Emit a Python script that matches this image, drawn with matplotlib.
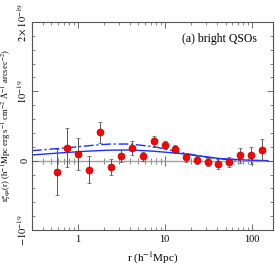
import numpy as np
import matplotlib
matplotlib.use('Agg')
import matplotlib.pyplot as plt
from matplotlib.ticker import LogLocator, MultipleLocator, FixedLocator, FixedFormatter, NullFormatter

plt.rcParams['font.family'] = ['Liberation Serif', 'DejaVu Serif']
plt.rcParams['mathtext.fontset'] = 'stix'

# measured points (r in h^-1 Mpc, signal in units of 1e-19)
r_pts = [0.577, 0.764, 1.01, 1.34, 1.80, 2.40, 3.18, 4.19, 5.59, 7.48,
         10.0, 13.2, 17.7, 23.5, 31.1, 41.2, 55.1, 73.6, 97.7, 130.6]
xi_pts = [-0.16, 0.19, 0.10, -0.13, 0.41, -0.09, 0.07, 0.18, 0.065, 0.28,
          0.225, 0.17, 0.05, 0.006, -0.015, -0.05, -0.015, 0.078, 0.078, 0.16]
xi_err = [0.33, 0.28, 0.23, 0.195, 0.15, 0.11, 0.09, 0.10, 0.065, 0.08,
          0.062, 0.053, 0.065, 0.055, 0.058, 0.072, 0.072, 0.11, 0.125, 0.15]

# model curves
r_solid = [0.30, 0.6, 1.2, 2.36, 4.0, 6.8, 10.0, 15.0, 25.0, 42.0, 83.0, 153.0]
xi_solid = [0.082, 0.11, 0.135, 0.152, 0.154, 0.14, 0.123, 0.104, 0.068, 0.032, 0.01, 0.0]
r_dash = [0.30, 0.82, 1.6, 2.36, 4.0, 7.7, 15.0, 25.0, 42.0, 73.0]
xi_dash = [0.144, 0.19, 0.225, 0.24, 0.24, 0.2, 0.12, 0.068, 0.025, 0.006]

ytick_vals = [-1, 0, 1, 2]
ytick_labels = [r'$-10^{-19}$', '0', r'$10^{-19}$', r'$2\times10^{-19}$']

fig = plt.figure(figsize=(2.75, 2.65), dpi=100)
ax = fig.add_axes([0.1164, 0.132, 0.8763, 0.785])

ax.axhline(0, color='#a0a0a0', lw=1.0, zorder=1)
ax.plot(r_solid, xi_solid, color='#1f2fff', lw=1.0, zorder=2)
ax.plot(r_dash, xi_dash, color='#1f2fff', lw=1.0, ls=(0, (7, 2, 1.5, 2)), zorder=2)
ax.errorbar(r_pts, xi_pts, yerr=xi_err, fmt='o', ms=5, mfc='red', mec='#c00000',
            mew=0.5, ecolor='#555555', elinewidth=0.7, capsize=1.5, capthick=0.7, zorder=3)

ax.set_xscale('log')
ax.set_xlim(0.30, 175)
ax.set_ylim(-1, 2)

ax.xaxis.set_major_locator(FixedLocator([1, 10, 100]))
ax.xaxis.set_major_formatter(FixedFormatter(['1', '10', '100']))
ax.xaxis.set_minor_locator(LogLocator(base=10, subs=np.arange(2, 10)))
ax.xaxis.set_minor_formatter(NullFormatter())
ax.yaxis.set_major_locator(FixedLocator(ytick_vals))
ax.yaxis.set_major_formatter(FixedFormatter(ytick_labels))
ax.yaxis.set_minor_locator(MultipleLocator(0.2))

for side in ax.spines.values():
    side.set_color('#555555')
    side.set_linewidth(0.8)
ax.tick_params(which='both', direction='in', top=True, right=True, color='#555555', labelsize=7.5)
ax.tick_params(which='major', length=4, width=0.6)
ax.tick_params(which='minor', length=2, width=0.5)
ax.tick_params(axis='y', which='major', pad=2)
for lab in ax.get_yticklabels():
    lab.set_rotation(90)
    lab.set_va('center')

# tick marks along the zero line
zax = ax.secondary_xaxis(1 / 3)
zax.xaxis.set_major_locator(FixedLocator([1, 10, 100]))
zax.xaxis.set_minor_locator(LogLocator(base=10, subs=np.arange(2, 10)))
zax.xaxis.set_major_formatter(NullFormatter())
zax.xaxis.set_minor_formatter(NullFormatter())
zax.spines['bottom'].set_visible(False)
zax.tick_params(which='both', direction='inout', color='#555555')
zax.tick_params(which='major', length=7, width=0.6)
zax.tick_params(which='minor', length=4, width=0.5)

ax.set_xlabel(r'r (h$^{-1}$Mpc)', fontsize=8, labelpad=5)
ax.set_ylabel(r'r$\xi_{\rm qa}$(r) (h$^{-1}$Mpc erg s$^{-1}$ cm$^{-2}$ Å$^{-1}$ arcsec$^{-2}$)',
              fontsize=6.2)
ax.yaxis.set_label_coords(-0.08, 0.5)
ax.text(0.935, 0.92, '(a) bright QSOs', transform=ax.transAxes, ha='right', va='center', fontsize=8.5)

fig.savefig('out.png', dpi=100)
